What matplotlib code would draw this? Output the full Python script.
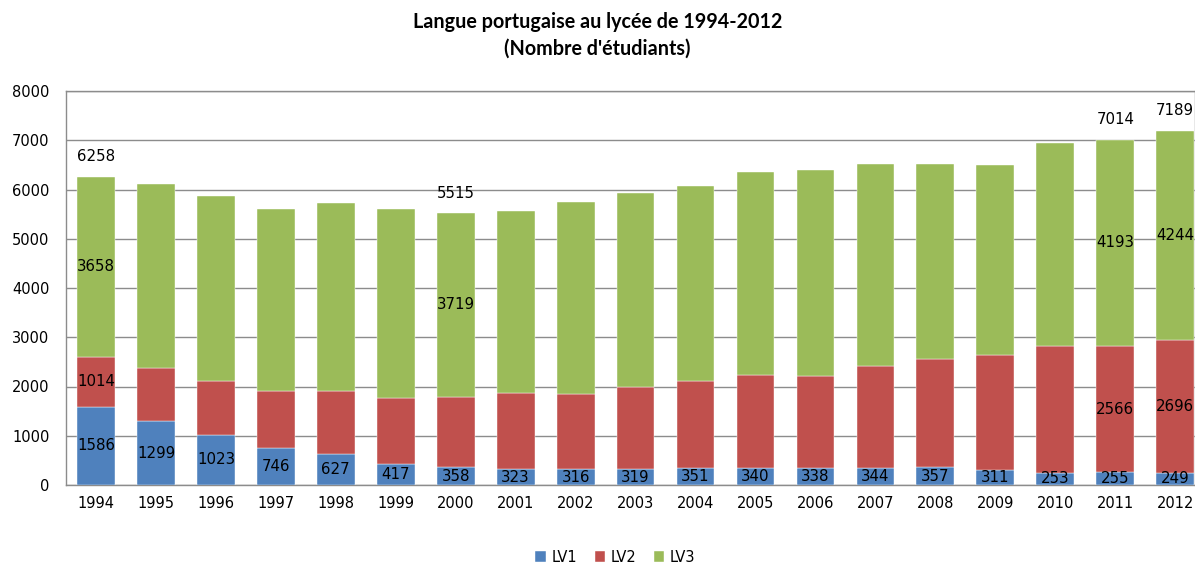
import matplotlib
matplotlib.use("Agg")
import matplotlib.pyplot as plt
import numpy as np

years = ["1994", "1995", "1996", "1997", "1998", "1999", "2000", "2001", "2002", "2003",
         "2004", "2005", "2006", "2007", "2008", "2009", "2010", "2011", "2012"]
lv1 = [1586, 1299, 1023, 746, 627, 417, 358, 323, 316, 319, 351, 340, 338, 344, 357, 311, 253, 255, 249]
lv2 = [1014, 1080, 1080, 1160, 1280, 1350, 1438, 1540, 1540, 1680, 1755, 1900, 1875, 2065, 2195, 2320, 2570, 2566, 2696]
lv3 = [3658, 3725, 3760, 3705, 3810, 3845, 3719, 3700, 3900, 3920, 3955, 4120, 4175, 4115, 3975, 3865, 4120, 4193, 4244]

lv2_labeled = ["1994", "2011", "2012"]
lv3_labeled = ["1994", "2000", "2011", "2012"]
total_labeled = ["1994", "2000", "2011", "2012"]

c1, c2, c3 = "#4F81BD", "#C0504D", "#9BBB59"

fig = plt.figure(figsize=(11.95, 5.65), dpi=100)
ax = fig.add_axes([66 / 1195, 80 / 565, 1 - 66 / 1195, 394 / 565])

x = np.arange(len(years))
w = 0.63
a1 = np.array(lv1)
a2 = np.array(lv2)
a3 = np.array(lv3)
ax.bar(x, a1, w, color=c1, label="LV1", zorder=3, edgecolor="white", linewidth=0.3)
ax.bar(x, a2, w, bottom=a1, color=c2, label="LV2", zorder=3, edgecolor="white", linewidth=0.3)
ax.bar(x, a3, w, bottom=a1 + a2, color=c3, label="LV3", zorder=3, edgecolor="white", linewidth=0.3)

lab_font = dict(family="DejaVu Sans", fontsize=10.8, color="black")
for i, yr in enumerate(years):
    ax.text(x[i], a1[i] / 2, str(lv1[i]), ha="center", va="center", zorder=4, **lab_font)
    if yr in lv2_labeled:
        ax.text(x[i], a1[i] + a2[i] / 2, str(lv2[i]), ha="center", va="center", zorder=4, **lab_font)
    if yr in lv3_labeled:
        ax.text(x[i], a1[i] + a2[i] + a3[i] / 2, str(lv3[i]), ha="center", va="center", zorder=4, **lab_font)
    if yr in total_labeled:
        tot = a1[i] + a2[i] + a3[i]
        ax.annotate(str(tot), (x[i], tot), xytext=(0, 9), textcoords="offset points",
                    ha="center", va="bottom", zorder=4, **lab_font)

ax.set_xlim(-0.5, 18.33)
ax.set_ylim(0, 8000)
ax.set_yticks(range(0, 8001, 1000))
ax.set_xticks(x)
ax.set_xticklabels(years)
ax.tick_params(length=0, labelsize=10.5, colors="black", pad=8)
for lbl in ax.get_xticklabels() + ax.get_yticklabels():
    lbl.set_family("DejaVu Sans")
ax.tick_params(axis="y", pad=12)
ax.grid(axis="y", color="#8C8C8C", linewidth=1.0, zorder=0)
for s in ax.spines.values():
    s.set_color("#8C8C8C")
    s.set_linewidth(1.0)

fig.text(0.5, 1 - 22 / 565, "Langue portugaise au lycée de 1994-2012", ha="center", va="center",
         family="Lato", fontweight="bold", fontsize=14.2)
fig.text(0.5, 1 - 49 / 565, "(Nombre d'étudiants)", ha="center", va="center",
         family="Lato", fontweight="bold", fontsize=14.2)

fig.legend(loc="center", bbox_to_anchor=(0.515, 1 - 557 / 565), ncol=3, frameon=False,
           handlelength=0.7, handleheight=0.7, handletextpad=0.4, columnspacing=1.2,
           prop=dict(family="DejaVu Sans", size=10.5))

fig.savefig("out.png", dpi=100)
